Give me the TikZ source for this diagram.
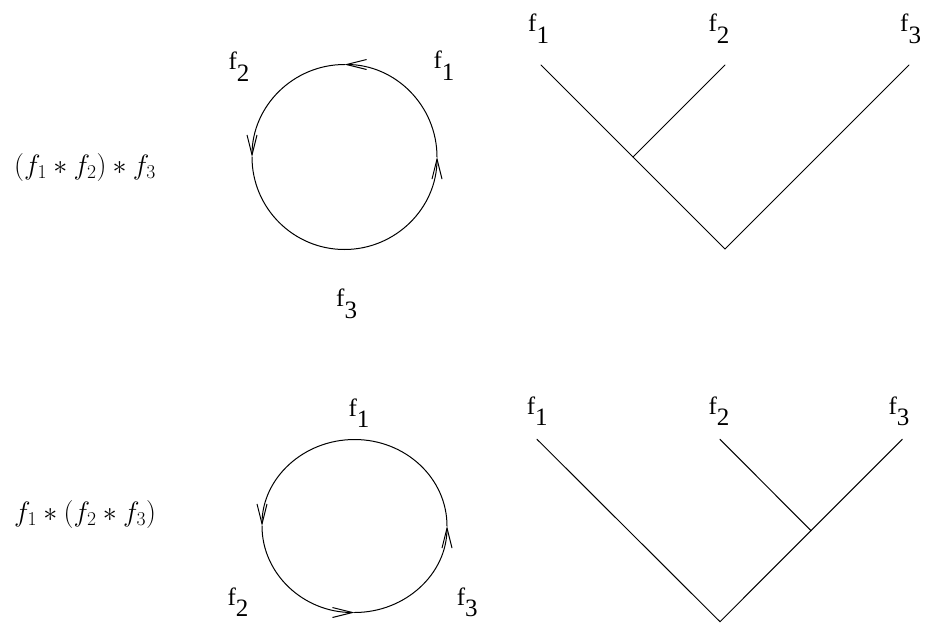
\RequirePackage{fix-cm}
\documentclass[tikz,border=0pt]{standalone}
\usepackage{fontspec}
\newfontfamily\tms{Liberation Serif}
\usetikzlibrary{arrows.meta}
\tikzset{
  lbl/.style={anchor=base west,inner sep=0pt,font=\tms\fontsize{25}{30}\selectfont},
  mlbl/.style={anchor=base west,inner sep=0pt,font=\fontsize{28}{34}\selectfont},
  ln/.style={line width=1pt,line cap=round},
  arr/.style={ln,-{Straight Barb[length=20pt,width=10pt,line width=1pt]}}
}
\newcommand{\fl}[1]{f\raisebox{-0.47em}{#1}}
\begin{document}
\begin{tikzpicture}[x=1pt,y=1pt]
\useasboundingbox (0,0) rectangle (926,-627);
% ---- top row ----
\node[mlbl] (eqA) at (14,-174) {$(f_1 * f_2) * f_3$};
\coordinate (cA) at (344.5,-157);
\draw[arr] ([shift={(0:92.5)}]cA) arc[start angle=0,end angle=90,radius=92.5];
\draw[arr] ([shift={(90:92.5)}]cA) arc[start angle=90,end angle=180,radius=92.5];
\draw[arr] ([shift={(180:92.5)}]cA) arc[start angle=180,end angle=360,radius=92.5];
\node[lbl] (cAf2) at (228.3,-69.3) {\fl{2}};
\node[lbl] (cAf1) at (433.3,-68.5) {\fl{1}};
\node[lbl] (cAf3) at (336,-306.7) {\fl{3}};
% tree A
\coordinate (tA1) at (541,-65);
\coordinate (tA2) at (725,-65);
\coordinate (tA3) at (909,-65);
\coordinate (tAj) at (633,-157);
\coordinate (tAr) at (725,-249);
\draw[ln] (tA1) -- (tAr) -- (tA3);
\draw[ln] (tA2) -- (tAj);
\node[lbl] (tAf1) at (528,-31.7) {\fl{1}};
\node[lbl] (tAf2) at (708.3,-31.7) {\fl{2}};
\node[lbl] (tAf3) at (900,-31.7) {\fl{3}};
% ---- bottom row ----
\node[mlbl] (eqB) at (14,-521) {$f_1 * (f_2 * f_3)$};
\coordinate (cB) at (354.5,-526);
\draw[arr] ([shift={(0:92.5 and 86.5)}]cB) arc[start angle=0,end angle=180,x radius=92.5,y radius=86.5];
\draw[arr] ([shift={(180:92.5 and 86.5)}]cB) arc[start angle=180,end angle=270,x radius=92.5,y radius=86.5];
\draw[arr] ([shift={(270:92.5 and 86.5)}]cB) arc[start angle=270,end angle=360,x radius=92.5,y radius=86.5];
\node[lbl] (cBf1) at (348.3,-416) {\fl{1}};
\node[lbl] (cBf2) at (227.3,-605) {\fl{2}};
\node[lbl] (cBf3) at (456.7,-605) {\fl{3}};
% tree B
\coordinate (tB1) at (537,-439.3);
\coordinate (tB2) at (720,-439.3);
\coordinate (tB3) at (902.3,-439.3);
\coordinate (tBj) at (811,-530.7);
\coordinate (tBr) at (720,-621.7);
\draw[ln] (tB1) -- (tBr) -- (tB3);
\draw[ln] (tB2) -- (tBj);
\node[lbl] (tBf1) at (526.7,-414) {\fl{1}};
\node[lbl] (tBf2) at (708.3,-414) {\fl{2}};
\node[lbl] (tBf3) at (888.3,-414) {\fl{3}};
\end{tikzpicture}
\end{document}
